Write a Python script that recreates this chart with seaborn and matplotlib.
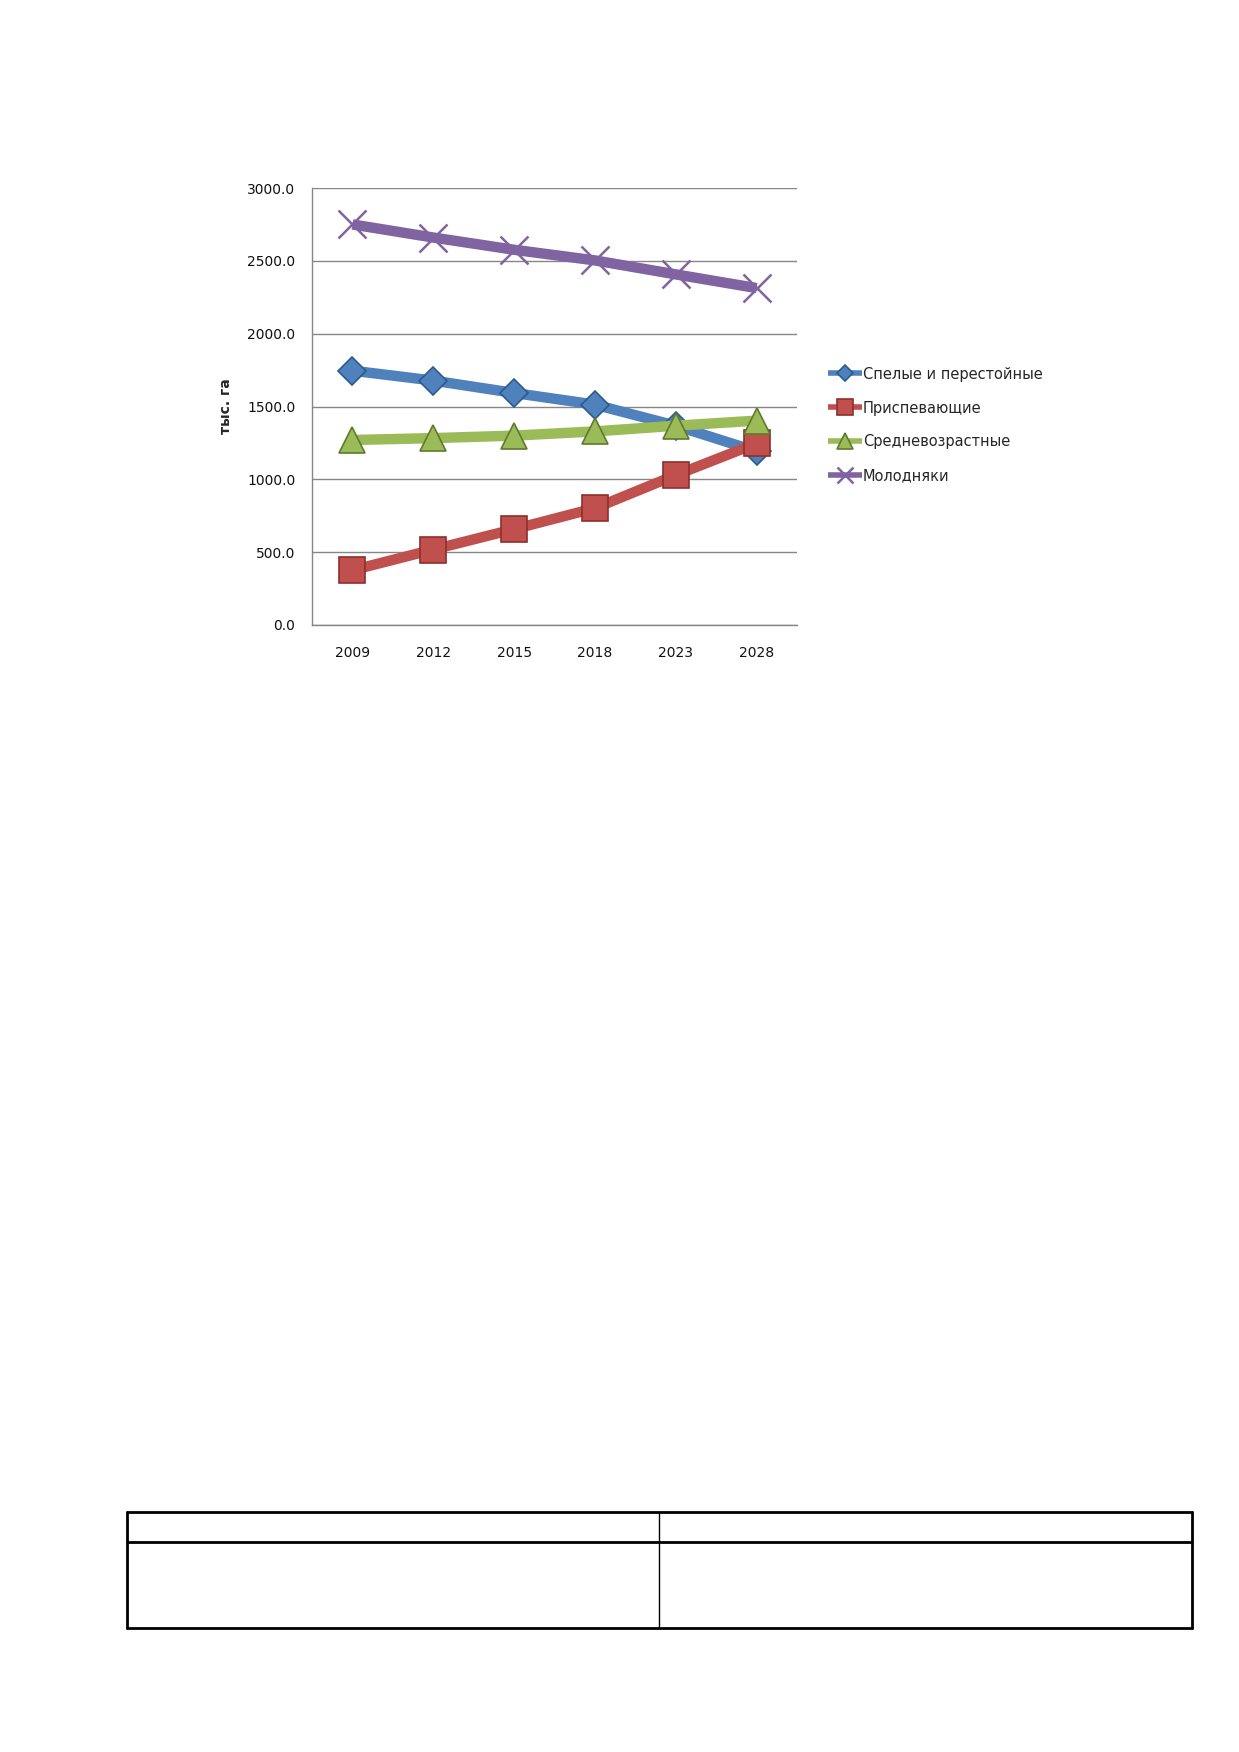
import numpy as np
import pandas as pd
import seaborn as sns
import matplotlib.pyplot as plt
from matplotlib.lines import Line2D

# --- data ---
years = ["2009", "2012", "2015", "2018", "2023", "2028"]
series_names = ["Спелые и перестойные", "Приспевающие", "Средневозрастные", "Молодняки"]
ripe = [1746, 1678, 1593, 1513, 1368, 1192]
premature = [376, 518, 658, 802, 1029, 1247]
middle_aged = [1270, 1283, 1300, 1329, 1368, 1403]
young = [2750, 2660, 2576, 2503, 2407, 2313]
y_ticks = [0, 500, 1000, 1500, 2000, 2500, 3000]

colors = ["#4F81BD", "#C0504D", "#9BBB59", "#8064A2"]
edges = ["#2C5A8E", "#8E2F2C", "#5F7A2E", "#8064A2"]
markers = ["D", "s", "^", "x"]
msizes = [14, 19, 19, 20]

df = pd.DataFrame({
    "pos": np.tile(np.arange(len(years)), 4),
    "value": ripe + premature + middle_aged + young,
    "series": np.repeat(series_names, len(years)),
})

sns.set_style("white")
plt.rcParams["font.family"] = ["DejaVu Sans"]

W, H = 1239, 1752
fig = plt.figure(figsize=(W / 100, H / 100), dpi=100)
# axes box in page pixels: left 312, right 797, top 188, bottom 625
ax = fig.add_axes([312 / W, 1 - 625 / H, 485 / W, 437 / H])

for name, c, ec, m, ms in zip(series_names, colors, edges, markers, msizes):
    sub = df[df["series"] == name]
    sns.lineplot(data=sub, x="pos", y="value", ax=ax, color=c, linewidth=7.5,
                 marker=m, markersize=ms, markeredgecolor=ec,
                 markeredgewidth=1.2 if m != "x" else 1.8, label=name, zorder=3,
                 solid_capstyle="butt")

ax.set_xlim(-0.5, len(years) - 0.5)
ax.set_ylim(0, 3000)
ax.set_yticks(y_ticks)
ax.set_yticklabels([f"{v:.1f}" for v in y_ticks])
ax.set_xticks(range(len(years)))
ax.set_xticklabels(years)
ax.set_xticks(np.arange(-0.5, len(years)), minor=True)
ax.tick_params(axis="x", which="major", length=0, pad=15, labelsize=10)
ax.tick_params(axis="x", which="minor", length=6, color="#868686", width=1)
ax.tick_params(axis="y", length=5, color="#868686", width=1, pad=7, labelsize=10)
for lab in ax.get_xticklabels() + ax.get_yticklabels():
    lab.set_color("#111111")

ax.yaxis.grid(True, color="#868686", linewidth=1)
ax.set_axisbelow(True)
for s in ["top", "right"]:
    ax.spines[s].set_visible(False)
for s in ["left", "bottom"]:
    ax.spines[s].set_color("#868686")
    ax.spines[s].set_linewidth(1)

ax.set_xlabel("")
ax.set_ylabel("тыс. га", fontsize=10, fontweight="bold", labelpad=10)

leg = ax.legend(loc="center left", bbox_to_anchor=(828 / W, 1 - 425 / H), bbox_transform=fig.transFigure,
                frameon=False, fontsize=10.5, handlelength=2.3, handletextpad=0.1,
                labelspacing=1.3, markerscale=0.6, borderaxespad=0, borderpad=0)
for ln in leg.get_lines():
    ln.set_linewidth(4)

# empty table outline at the bottom of the page
lx, mx, rx = 127 / W, 659 / W, 1192 / W
ty, my, by = 1 - 1512 / H, 1 - 1542 / H, 1 - 1628 / H
for x0, y0, x1, y1, lw in [(lx, ty, rx, ty, 2), (lx, my, rx, my, 2), (lx, by, rx, by, 2),
                           (lx, ty, lx, by, 2), (rx, ty, rx, by, 2), (mx, ty, mx, by, 1)]:
    fig.add_artist(Line2D([x0, x1], [y0, y1], color="black", linewidth=lw,
                          transform=fig.transFigure))

fig.savefig("out.png", dpi=100)
